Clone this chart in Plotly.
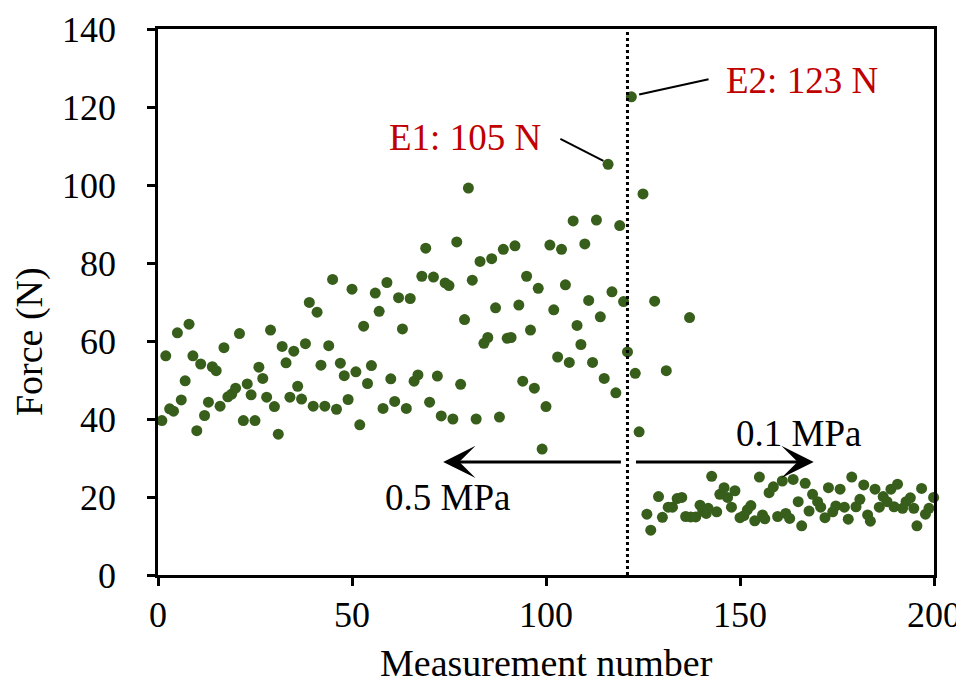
import plotly.graph_objects as go

measurement = [
    1, 2, 3, 4, 5, 6, 7, 8, 9, 10, 11, 12, 13, 14, 15, 16, 17, 18, 19, 20,
    21, 22, 23, 24, 25, 26, 27, 28, 29, 30, 31, 32, 33, 34, 35, 36, 37, 38, 39, 40,
    41, 42, 43, 44, 45, 46, 47, 48, 49, 50, 51, 52, 53, 54, 55, 56, 57, 58, 59, 60,
    61, 62, 63, 64, 65, 66, 67, 68, 69, 70, 71, 72, 73, 74, 75, 76, 77, 78, 79, 80,
    81, 82, 83, 84, 85, 86, 87, 88, 89, 90, 91, 92, 93, 94, 95, 96, 97, 98, 99, 100,
    101, 102, 103, 104, 105, 106, 107, 108, 109, 110, 111, 112, 113, 114, 115, 116, 117, 118, 119, 120,
    121, 122, 123, 124, 125, 128, 131, 137,
    126, 127, 129, 130, 131.5, 132.6, 133.8, 135, 136, 137.3, 138.6, 139.7, 140.4, 141.3, 141.8,
    142.7, 144, 144.8, 145.9, 146.8, 147.8, 148.7, 150, 151, 151.9, 152.8, 153.8, 155, 155.8,
    156.4, 157.5, 158.6, 159.7, 160.9, 161.8, 162.8, 163.7, 165, 165.9, 166.8, 167.8, 168.7,
    170, 170.8, 171.9, 172.8, 173.9, 174.7, 175.8, 176.9, 177.9, 178.8, 179.9, 180.9, 181.9,
    182.9, 183.6, 184.8, 185.9, 186.9, 187.9, 188.9, 189.7, 190.6, 191.9, 192.8, 193.9, 194.8,
    195.6, 196.8, 197.8, 198.7, 199.9,
]
force = [
    39.6, 56.2, 42.6, 42.0, 62.1, 44.9, 49.8, 64.3, 56.2, 37.0, 54.1, 40.9, 44.3, 53.4, 52.4, 43.3, 58.3, 45.7, 46.4, 47.9,
    61.9, 39.6, 49.0, 46.2, 39.6, 53.3, 50.4, 45.6, 62.8, 43.2, 36.1, 58.6, 54.4, 45.6, 57.4, 48.4, 45.1, 59.3, 69.9, 43.3,
    67.4, 53.8, 43.3, 58.8, 75.8, 42.5, 54.3, 51.1, 45.0, 73.3, 52.1, 38.5, 63.8, 49.1, 53.7, 72.3, 67.6, 42.7, 75.0, 50.3,
    44.5, 71.1, 63.1, 42.7, 70.9, 49.7, 51.3, 76.6, 83.8, 44.3, 76.4, 51.0, 40.8, 74.9, 74.2, 40.0, 85.4, 48.9, 65.5, 99.2,
    75.6, 40.0, 80.4, 59.4, 60.9, 81.1, 68.5, 40.5, 83.5, 60.7, 60.9, 84.4, 69.2, 49.7, 76.6, 62.8, 47.9, 73.5, 32.3, 43.2,
    84.6, 68.0, 55.9, 83.5, 74.4, 54.5, 90.8, 64.0, 59.1, 84.9, 70.4, 54.5, 91.0, 66.2, 50.4, 105.3, 72.6, 46.7, 89.6, 70.1,
    57.2, 122.6, 51.7, 36.7, 97.7, 70.2, 52.4, 66.0,
    15.6, 11.5, 20.1, 14.8, 17.4, 17.4, 19.6, 19.9, 15.0, 14.9, 14.9, 17.9, 16.4, 15.8, 17.1,
    25.3, 16.2, 20.7, 22.4, 19.9, 17.4, 21.6, 14.7, 15.2, 16.7, 17.8, 13.9, 25.1, 15.4,
    14.4, 21.1, 22.6, 15.0, 24.1, 15.8, 14.5, 24.5, 18.8, 12.6, 23.5, 16.4, 20.7,
    18.8, 17.4, 14.7, 22.4, 16.2, 17.7, 22.0, 17.4, 14.3, 25.1, 17.5, 19.4, 23.1,
    15.4, 13.8, 22.0, 17.4, 20.1, 18.8, 22.0, 17.5, 23.3, 17.1, 18.8, 19.8, 17.1,
    12.6, 22.2, 15.6, 17.1, 19.9,
]

x_ticks = [0, 50, 100, 150, 200]
y_ticks = [0, 20, 40, 60, 80, 100, 120, 140]
switch_at = 121  # measurement where pressure changes

FONT = "Liberation Serif"
GREEN = "#375E1A"
RED = "#C00000"

fig = go.Figure()
fig.add_trace(go.Scatter(
    x=measurement, y=force, mode="markers",
    marker=dict(size=11, color=GREEN),
    cliponaxis=False, showlegend=False,
))

# dotted separation line
fig.add_shape(type="line", xref="x", yref="y", x0=switch_at, x1=switch_at, y0=0, y1=140,
              line=dict(color="black", width=3, dash="dot"))

# leader lines for E1 and E2
fig.add_shape(type="line", xref="x", yref="y", x0=103.7, y0=111.8, x1=114.8, y1=106.2,
              line=dict(color="black", width=2))
fig.add_shape(type="line", xref="x", yref="y", x0=124.0, y0=123.2, x1=141.9, y1=127.1,
              line=dict(color="black", width=2))

annotations = [
    dict(x=79.2, y=112.3, text="E1: 105 N", font=dict(color=RED, size=37, family=FONT)),
    dict(x=166.0, y=126.9, text="E2: 123 N", font=dict(color=RED, size=37, family=FONT)),
    dict(x=74.6, y=20.0, text="0.5 MPa", font=dict(color="black", size=37, family=FONT)),
    dict(x=165.2, y=36.2, text="0.1 MPa", font=dict(color="black", size=37, family=FONT)),
]
for a in annotations:
    a.update(xref="x", yref="y", showarrow=False)

# arrows
arrow_style = dict(xref="x", yref="y", axref="x", ayref="y", text="", showarrow=True,
                   arrowhead=3, arrowsize=1.8, arrowwidth=3, arrowcolor="black")
annotations.append(dict(x=73.5, y=29.0, ax=119.7, ay=29.0, **arrow_style))
annotations.append(dict(x=169.0, y=29.0, ax=122.8, ay=29.0, **arrow_style))

# axis titles
annotations.append(dict(xref="paper", yref="paper", x=0.501, y=-0.1612, showarrow=False,
                        text="Measurement number", xanchor="center", yanchor="middle",
                        font=dict(family=FONT, size=38, color="black")))
annotations.append(dict(xref="paper", yref="paper", x=-0.1662, y=0.4267, showarrow=False,
                        text="Force (N)", textangle=-90, xanchor="center", yanchor="middle",
                        font=dict(family=FONT, size=38, color="black")))

axis_common = dict(showline=True, linecolor="black", linewidth=2.5, mirror=True,
                   ticks="outside", ticklen=8, tickwidth=2.5, tickcolor="black",
                   showgrid=False, zeroline=False, automargin=False,
                   tickfont=dict(family=FONT, size=36, color="black"))

fig.update_layout(
    width=956, height=678,
    margin=dict(l=150, r=30, t=21, b=111),
    paper_bgcolor="white", plot_bgcolor="white",
    xaxis=dict(range=[0, 200], tickvals=x_ticks, ticklabelstandoff=-2, **axis_common),
    yaxis=dict(range=[0, 140], tickvals=y_ticks, ticklabelstandoff=24, **axis_common),
    annotations=annotations,
)

fig.write_html("out.html")
